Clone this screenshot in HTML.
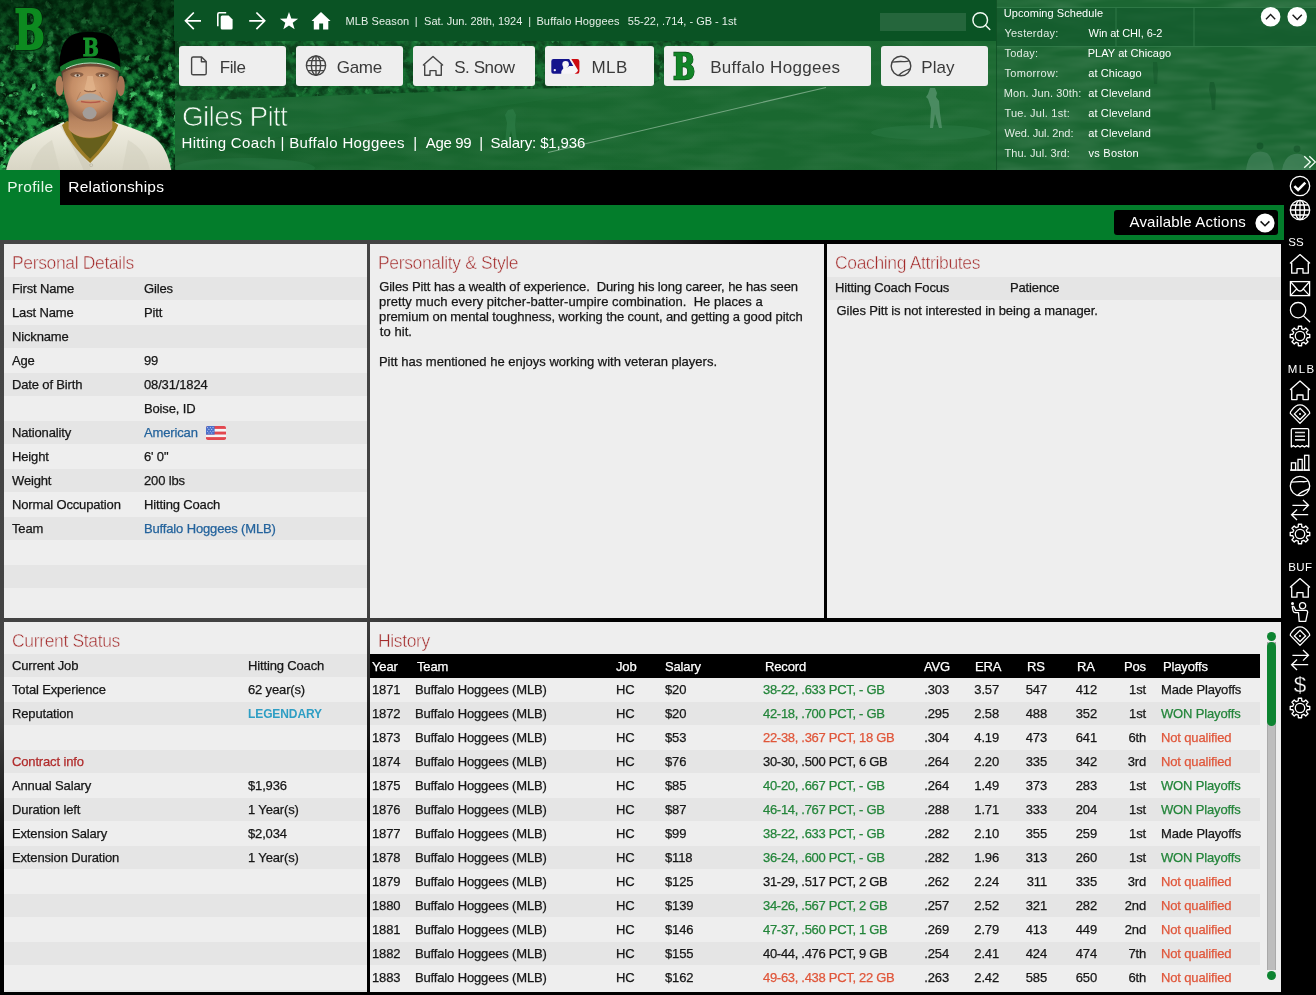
<!DOCTYPE html>
<html lang="en"><head><meta charset="utf-8"><title>Giles Pitt - Coach Profile</title>
<style>

*{box-sizing:border-box;margin:0;padding:0}
html,body{width:1316px;height:995px;overflow:hidden;background:#3a3a3a}
body{font-family:"Liberation Sans",sans-serif;font-size:13px;color:#1c1c1c}
#app{position:relative;width:1316px;height:995px;overflow:hidden;background:#000 radial-gradient(ellipse 800px 660px at 0px 240px,#464646 0%,#424242 72%,#000 96%)}
.abs{position:absolute}
.t{position:absolute;white-space:pre;line-height:24px;height:24px;letter-spacing:-0.15px}
.x{position:absolute;white-space:pre}
.panel .t{line-height:26px}
.panel{color:#161616;-webkit-text-stroke:0.25px}
#hdr{position:absolute;left:0;top:0;width:1316px;height:170px;background:#12642d;overflow:hidden}
#topstrip{position:absolute;left:174px;top:0;width:822px;height:41px;background:#0a5324}
.btn{position:absolute;top:46px;height:40px;background:#eeeeee;border-radius:3px;color:#3a3a3a;font-size:18px}

#tabs{position:absolute;left:0;top:170px;width:1316px;height:35px;background:#000}
#actbar{position:absolute;left:0;top:205px;width:1284px;height:35px;background:#037d2b}
.panel{position:absolute;background:#eeeeee;overflow:hidden}
.ptitle{position:absolute;left:8px;top:7px;font-size:17.5px;color:#a32a2a;line-height:24px;white-space:pre;letter-spacing:-0.35px;-webkit-text-stroke:0.45px #eeeeee}
.stripe{position:absolute;left:0;height:23px;background:#e5e5e5}
.lnk{color:#24639c}
.g{color:#23853a}
.r{color:#e0563a}
#side{position:absolute;left:1284px;top:170px;width:32px;height:825px;background:#000}
.sch{position:absolute;white-space:pre;color:#fff;font-size:11.5px;line-height:20px;height:20px}

</style></head>
<body>
<div id="app">

<svg width="0" height="0" style="position:absolute">
<defs>
<filter id="crowd" x="0" y="0" width="100%" height="100%" color-interpolation-filters="sRGB">
  <feTurbulence type="fractalNoise" baseFrequency="0.11" numOctaves="4" seed="7" result="n"/>
  <feColorMatrix in="n" type="matrix" values="0 0 0 0 0.13  0 0 0 0 0.62  0 0 0 0 0.27  5 0 0 0 -2.5" result="hi"/>
  <feColorMatrix in="n" type="matrix" values="0 0 0 0 0.01  0 0 0 0 0.09  0 0 0 0 0.03  -5 0 0 0 2.6" result="lo"/>
  <feColorMatrix in="n" type="matrix" values="0 0 0 0 0.3  0 0 0 0 0.85  0 0 0 0 0.45  0 7 0 0 -4.45" result="sp"/>
  <feMerge><feMergeNode in="lo"/><feMergeNode in="hi"/><feMergeNode in="sp"/></feMerge>
</filter>
<filter id="fieldn" x="0" y="0" width="100%" height="100%" color-interpolation-filters="sRGB">
  <feTurbulence type="fractalNoise" baseFrequency="0.02 0.09" numOctaves="2" seed="11"/>
  <feColorMatrix type="matrix" values="0 0 0 0 1  0 0 0 0 1  0 0 0 0 1  0.5 0 0 0 -0.17"/>
</filter>
<filter id="soft" x="-10%" y="-10%" width="120%" height="120%"><feGaussianBlur stdDeviation="0.55"/></filter>
<filter id="soft2" x="-20%" y="-20%" width="140%" height="140%"><feGaussianBlur stdDeviation="1.6"/></filter>
<radialGradient id="skin" cx="0.5" cy="0.45" r="0.62">
  <stop offset="0" stop-color="#dcaa80"/><stop offset="0.55" stop-color="#c48d66"/><stop offset="1" stop-color="#76503a"/>
</radialGradient>
<linearGradient id="neck" x1="0" y1="0" x2="0" y2="1">
  <stop offset="0" stop-color="#7e553c"/><stop offset="0.5" stop-color="#b98560"/><stop offset="1" stop-color="#c9956c"/>
</linearGradient>
<linearGradient id="jersey" x1="0" y1="0" x2="0" y2="1">
  <stop offset="0" stop-color="#f1efe3"/><stop offset="1" stop-color="#d8d5c4"/>
</linearGradient>
<linearGradient id="crowdshade" x1="0" y1="0" x2="0" y2="1">
  <stop offset="0" stop-color="#00210a" stop-opacity="0.8"/><stop offset="0.3" stop-color="#00210a" stop-opacity="0.45"/><stop offset="0.6" stop-color="#00210a" stop-opacity="0.1"/><stop offset="1" stop-color="#00210a" stop-opacity="0"/>
</linearGradient>
</defs></svg>
<div id="hdr"><svg class="abs" style="left:174px;top:0" width="822" height="170" viewBox="174 0 822 170"><defs><clipPath id="crowdclip"><path d="M174,41 H720 L650,86 L520,89 L174,101 Z"/></clipPath><linearGradient id="fg" x1="0" y1="0" x2="1" y2="0"><stop offset="0" stop-color="#15602b"/><stop offset="0.45" stop-color="#19672f"/><stop offset="1" stop-color="#1b6931"/></linearGradient><linearGradient id="fg2" x1="0" y1="0" x2="0" y2="1"><stop offset="0" stop-color="#06391a" stop-opacity="0.55"/><stop offset="0.5" stop-color="#06391a" stop-opacity="0.12"/><stop offset="1" stop-color="#06391a" stop-opacity="0"/></linearGradient></defs><rect x="174" y="0" width="822" height="170" fill="url(#fg)"/><rect x="174" y="0" width="822" height="170" filter="url(#fieldn)" opacity="0.22"/><path d="M174,41 H720 L650,86 L520,89 L174,101 Z" fill="#0d4f23" opacity="0.55"/><g clip-path="url(#crowdclip)" opacity="0.35"><rect x="174" y="41" width="560" height="64" filter="url(#crowd)"/></g><path d="M174,101 L520,89 L650,86 L600,92 L174,152 Z" fill="#2a7a44" opacity="0.22"/><path d="M548,152.5 L826,87.5" stroke="#b5d4bc" stroke-width="1.2" opacity="0.55"/><ellipse cx="931" cy="132.5" rx="60" ry="7.5" fill="#2b7a45" opacity="0.5"/><ellipse cx="245" cy="168" rx="70" ry="10" fill="#2b7a45" opacity="0.4"/><path d="M930,88 l5,0 l2,5 l-1,4 l3,4 l1,12 l2,15 l-3,0 l-4,-14 l-2,14 l-3,0 l1,-20 l-3,-9 l-2,-2 l2,-3 z" fill="#5a9570" opacity="0.75"/><path d="M508,110 l5,-1 l3,6 l-1,10 l2,18 l-3,0 l-3,-12 l-3,12 l-3,0 l2,-20 l-2,-8 z" fill="#2f7e49" opacity="0.6"/></svg><svg class="abs" style="left:996px;top:0" width="320" height="170" viewBox="996 0 320 170"><rect x="996" y="0" width="320" height="170" fill="#1b6632"/><rect x="996" y="0" width="320" height="170" filter="url(#fieldn)" opacity="0.4"/><rect x="996" y="7" width="320" height="40" fill="#125a2c" opacity="0.7"/><path d="M996,7.5 H1316 M996,46.5 H1316 M1116,8 V46 M1194,8 V46" stroke="#3f8a57" stroke-width="1" opacity="0.6" fill="none"/><rect x="995.5" y="0" width="1.3" height="170" fill="#0e4f24"/><path d="M1246,170 q2,-14 8,-17 q6,-3 13,0 q5,4 7,17 z" fill="#4a8560" opacity="0.6"/><circle cx="1260" cy="146" r="3.4" fill="#0d4a22" opacity="0.55"/><path d="M1282,170 q2,-12 9,-15 q8,-3 14,1 q5,4 6,14 z" fill="#4f8b66" opacity="0.6"/><circle cx="1297" cy="149" r="3.4" fill="#0d4a22" opacity="0.45"/><path d="M1210,82 l4,0 l2,8 l-1,20 l-3,0 l-1,-12 l-2,-8 z" fill="#0f4f25" opacity="0.5"/><path d="M1153,62 l4,0 l1,8 l-1,14 l-3,0 l-1,-14 z" fill="#0f4f25" opacity="0.4"/><circle cx="1270.6" cy="16.8" r="9.8" fill="#fff"/><path d="M1266.0,19.2 L1270.6,14.4 L1275.1999999999998,19.2" stroke="#1a1a1a" stroke-width="1.4" fill="none"/><circle cx="1297.2" cy="16.8" r="9.8" fill="#fff"/><path d="M1292.6000000000001,14.8 L1297.2,19.6 L1301.8,14.8" stroke="#1a1a1a" stroke-width="1.4" fill="none"/><path d="M1304.2,156.3 L1310.3,162 L1304.2,167.7 M1309.3,156.3 L1315.4,162 L1309.3,167.7" stroke="#f2fff4" stroke-width="1.35" fill="none"/></svg><svg class="abs" style="left:0;top:0" width="175" height="170" viewBox="0 0 175 170"><rect width="175" height="170" fill="#0d5a27"/><rect width="175" height="170" filter="url(#crowd)"/><rect width="175" height="170" fill="url(#crowdshade)"/></svg><div id="topstrip"></div><div class="abs" style="left:880px;top:13px;width:86px;height:18px;background:rgba(255,255,255,0.115)"></div><svg class="abs" style="left:968px;top:8px" width="26" height="26" viewBox="968 8 26 26" fill="none" stroke="#f2fbf3" stroke-width="1.45"><circle cx="980.2" cy="20" r="7.3"/><path d="M985.5,25.3 L989.8,29.5" stroke-linecap="round"/></svg><svg class="abs" style="left:0;top:0" width="180" height="170" viewBox="0 0 180 170"><g transform="translate(14.60,48.95) scale(0.731,1)"><text x="0" y="0" font-family="'DejaVu Serif Condensed','DejaVu Serif','Liberation Serif',serif" font-weight="bold" font-size="54.52" fill="#04260c" stroke="#04260c" stroke-width="3.70" stroke-linejoin="miter">B</text><text x="0" y="0" font-family="'DejaVu Serif Condensed','DejaVu Serif','Liberation Serif',serif" font-weight="bold" font-size="54.52" fill="#0d8a20" stroke="#0d8a20" stroke-width="1.90" stroke-linejoin="miter">B</text></g><g filter="url(#soft)"><path d="M6,171 C9,156 14,149 24,142 C36,135 50,129 63.5,122 L90,142 L114.5,121.8 C128,127 142,131 153,137 C163,143 168,154 171.5,171 Z" fill="url(#jersey)"/><path d="M30,171 C34,156 40,147 52,140 L60,171 Z" fill="#cfccba" opacity="0.45"/><path d="M150,171 C147,156 141,147 128,140 L122,171 Z" fill="#cfccba" opacity="0.45"/><path d="M64,124 C70,140 80,154 90.3,164.5 L90.3,171 L84,171 C78,156 70,142 60,126 Z" fill="#c9c6b3" opacity="0.5"/><path d="M62,125 C66,138 78,152 90.2,163 C101,152 113,139 118.2,125 L113,121 L90,130 L67,121 Z" fill="#9c7c26"/><path d="M70.5,131 C75,142 82,151 90.2,158.8 C98,151 106,141 111.2,130.4 C100,140.5 80,141 70.5,131 Z" fill="#665f1d"/><path d="M68.4,104 L112.6,104 L112.3,128 C105,140.5 76,141 68.6,129 Z" fill="url(#neck)"/><ellipse cx="59.6" cy="86" rx="4" ry="10.2" fill="#b07d5a"/><ellipse cx="120.8" cy="86" rx="4" ry="10.2" fill="#a67354"/><path d="M61,68 L66.5,68 L65,86 L62,80 Z" fill="#4a3b30"/><path d="M119.4,68 L114,68 L115.3,86 L118.6,80 Z" fill="#4a3b30"/><path d="M62.6,62 C62,82 63.5,97 68.4,107.5 C72,115 80,121.6 90,121.6 C100,121.6 108,115 112.4,107.5 C116.8,97 118.4,82 117.8,62 Z" fill="url(#skin)"/><path d="M62.6,62 L117.8,62 L117.8,72.5 C104,64.5 76,64.5 62.6,73 Z" fill="#55382a" opacity="0.7"/><ellipse cx="76.8" cy="74.6" rx="6.6" ry="2.6" fill="#6b4733" opacity="0.65"/><ellipse cx="102.2" cy="74.6" rx="6.6" ry="2.6" fill="#6b4733" opacity="0.65"/><ellipse cx="77.3" cy="75.4" rx="3" ry="1.25" fill="#d7cbbd"/><ellipse cx="101.8" cy="75.4" rx="3" ry="1.25" fill="#d7cbbd"/><circle cx="77.6" cy="75.3" r="1.15" fill="#3b2a20"/><circle cx="101.5" cy="75.3" r="1.15" fill="#3b2a20"/><path d="M87.4,76 C86.6,82 85.2,86 84.4,89.4 C86,91.6 94,91.6 95.8,89.4 C95,86 93.4,82 92.8,76 Z" fill="#e2b48c" opacity="0.75"/><path d="M84.2,90.2 Q87,92.4 90.1,91.4 Q93.2,92.4 96,90.2" stroke="#8a5a3e" stroke-width="1.3" fill="none" opacity="0.85"/><path d="M80.6,92 Q77.4,97 76.6,102" stroke="#9a6a4c" stroke-width="1" fill="none" opacity="0.5"/><path d="M99.6,92 Q102.8,97 103.6,102" stroke="#9a6a4c" stroke-width="1" fill="none" opacity="0.5"/><path d="M75.8,102 C79.5,96.4 85,93.2 90.1,93.2 C95.2,93.2 100.8,96.4 108.6,102.4 C103,100.2 97,99.6 90.1,99.9 C84,99.6 80,100.2 75.8,102 Z" fill="#aca59f"/><path d="M81,101.6 Q90.4,103.4 100.4,101.6" stroke="#b55a4a" stroke-width="1.5" fill="none"/><path d="M82.6,112.6 C84.4,108 87.6,107 89.6,107 C91.6,107 94.8,108 96.6,112.6 C96.6,116.6 93.6,119.2 89.6,119.2 C85.6,119.2 82.6,116.6 82.6,112.6 Z" fill="#a39d99"/><path d="M59.8,70 C58.5,50 64,37 76,33.5 C85,31.6 95,31.6 104,33.5 C116,37 121.2,50 120.2,70 C104,57.5 76,57.5 59.8,70 Z" fill="#050505"/><path d="M60,67 C76,54.8 104,54.8 120.2,67 L119.7,71.6 C104,60.6 76,60.8 60.5,72 Z" fill="#19782f"/><path d="M66,68.6 C80,61.2 100,61.1 115,68.2" stroke="#e9efe6" stroke-width="0.9" fill="none" opacity="0.9"/></g><circle cx="91.2" cy="165.2" r="1.5" fill="#d9d6c6" stroke="#aaa794" stroke-width="0.5"/><g transform="translate(82.65,55.85) scale(0.884,1)"><text x="0" y="0" font-family="'DejaVu Serif Condensed','DejaVu Serif','Liberation Serif',serif" font-weight="bold" font-size="23.97" fill="#15902a" stroke="#15902a" stroke-width="0.90" stroke-linejoin="miter">B</text></g></svg><svg class="abs" style="left:176px;top:4px" width="170" height="36" viewBox="176 4 170 36" fill="none" stroke="#fff" stroke-width="1.7"><path d="M185.6,20.8 H201 M193.8,12.5 L185.5,20.8 L193.8,29.1" stroke-linejoin="miter"/><path d="M226.2,12.8 H219.3 Q217.8,12.8 217.8,14.3 V26.2" stroke-width="1.6"/><path d="M222.2,15.4 H228.6 L232.6,19.4 V28 Q232.6,29.5 231.1,29.5 H222.2 Q220.7,29.5 220.7,28 V16.9 Q220.7,15.4 222.2,15.4 Z" fill="#fff" stroke="none"/><path d="M249.2,20.8 H264.6 M256.4,12.5 L264.7,20.8 L256.4,29.1" stroke-linejoin="miter"/><polygon points="289.00,12.00 291.29,18.44 298.13,18.63 292.71,22.81 294.64,29.37 289.00,25.50 283.36,29.37 285.29,22.81 279.87,18.63 286.71,18.44" fill="#fff" stroke="none"/><path d="M321,12 L330.6,20.9 H328.3 V29.5 H323.1 V23.4 H319.2 V29.5 H313.8 V20.9 H311.5 Z" fill="#fff" stroke="none"/></svg><div class="x" style="left:345.5px;top:9.0px;line-height:24px;height:24px;font-size:11px;letter-spacing:0.082px;color:#e6efe8;">MLB Season</div><div class="x" style="left:414.7px;top:9.0px;line-height:24px;height:24px;font-size:11px;letter-spacing:0px;color:#e6efe8;">|</div><div class="x" style="left:424.1px;top:9.0px;line-height:24px;height:24px;font-size:11px;letter-spacing:-0.013px;color:#e6efe8;">Sat. Jun. 28th, 1924</div><div class="x" style="left:528.3px;top:9.0px;line-height:24px;height:24px;font-size:11px;letter-spacing:0px;color:#e6efe8;">|</div><div class="x" style="left:536.4px;top:9.0px;line-height:24px;height:24px;font-size:11px;letter-spacing:0.147px;color:#e6efe8;">Buffalo Hoggees</div><div class="x" style="left:627.8px;top:9.0px;line-height:24px;height:24px;font-size:11px;letter-spacing:-0.008px;color:#e6efe8;">55-22, .714, - GB - 1st</div><div class="btn" style="left:179px;width:107px"></div><div class="btn" style="left:296px;width:107px"></div><div class="btn" style="left:413px;width:122px"></div><div class="btn" style="left:545px;width:109px"></div><div class="btn" style="left:664px;width:207px"></div><div class="btn" style="left:881px;width:107px"></div><div class="x" style="left:219.65px;top:56.0px;line-height:24px;height:24px;font-size:17px;letter-spacing:-0.396px;color:#3a3a3a;">File</div><div class="x" style="left:336.7px;top:56.0px;line-height:24px;height:24px;font-size:17px;letter-spacing:-0.28px;color:#3a3a3a;">Game</div><div class="x" style="left:454.2px;top:56.0px;line-height:24px;height:24px;font-size:17px;letter-spacing:-0.422px;color:#3a3a3a;">S. Snow</div><div class="x" style="left:591.6px;top:56.0px;line-height:24px;height:24px;font-size:17px;letter-spacing:0.342px;color:#3a3a3a;">MLB</div><div class="x" style="left:710.2px;top:56.0px;line-height:24px;height:24px;font-size:17px;letter-spacing:0.315px;color:#3a3a3a;">Buffalo Hoggees</div><div class="x" style="left:921.3px;top:56.0px;line-height:24px;height:24px;font-size:17px;letter-spacing:0.01px;color:#3a3a3a;">Play</div><svg class="abs" style="left:176px;top:42px" width="820" height="48" viewBox="176 42 820 48" fill="none" stroke="#444" stroke-width="1.4"><path d="M193.2,57 H201.6 L206.2,61.6 V73.2 Q206.2,74.8 204.6,74.8 H193.2 Q191.6,74.8 191.6,73.2 V58.6 Q191.6,57 193.2,57 Z M201.4,57.2 V61.8 H206" stroke-linejoin="round"/><g transform="translate(316,65.6)"><circle r="9.6"/><ellipse rx="4.6" ry="9.6"/><path d="M0,-9.6 V9.6 M-9.6,0 H9.6 M-8.2,-5 H8.2 M-8.2,5 H8.2"/></g><g transform="translate(433,66)"><path d="M-9.6,-0.9 L0,-9.4 L9.6,-0.9" stroke-linejoin="round" stroke-linecap="round"/><path d="M-8.3,-1.6 V9.2 H-3 V4.6 H3 V9.2 H8.3 V-1.6" stroke-linejoin="round"/></g><g stroke="none"><rect x="551.3" y="59.1" width="28.1" height="14.6" rx="2.2" fill="#f6f5f7"/><path d="M553.5,59.1 H569.2 L573.3,65.9 H569.4 L567.6,67.2 L562.8,66.4 L563.4,68.2 L561.4,71 L561.2,73.7 H553.5 Q551.3,73.7 551.3,71.5 V61.3 Q551.3,59.1 553.5,59.1 Z" fill="#14148c"/><circle cx="565.6" cy="64.2" r="3.25" fill="#f6f5f7"/><path d="M571.3,59.1 H577.2 Q579.4,59.1 579.4,61.3 V71.5 Q579.4,73.7 577.2,73.7 H574.6 Q577.7,72.6 578,70.2 Z" fill="#cc0a10"/><circle cx="554.8" cy="70.2" r="1.15" fill="#f6f5f7"/></g><g transform="translate(901,66)"><circle r="9.8"/><path d="M-8.9,-3.9 Q-2,-4.7 2,-4.4 Q6,-4.1 8.3,-5.3"/><path d="M-2.2,9.5 Q1,5.5 9.1,2.9"/></g><g transform="translate(673.34,79.20) scale(0.808,1)"><text x="0" y="0" font-family="'DejaVu Serif Condensed','DejaVu Serif','Liberation Serif',serif" font-weight="bold" font-size="35.34" fill="#0a4a15" stroke="#0a4a15" stroke-width="2.40" stroke-linejoin="miter">B</text><text x="0" y="0" font-family="'DejaVu Serif Condensed','DejaVu Serif','Liberation Serif',serif" font-weight="bold" font-size="35.34" fill="#128427" stroke="#128427" stroke-width="1.20" stroke-linejoin="miter">B</text></g></svg><div class="x" style="left:181.99px;top:99.5px;line-height:34px;height:34px;font-size:28px;letter-spacing:-0.69px;color:#f4faf5;-webkit-text-stroke:0.7px #1a662f;">Giles Pitt</div><div class="x" style="left:181.5px;top:131.0px;line-height:24px;height:24px;font-size:15px;letter-spacing:0.336px;color:#fff;">Hitting Coach | Buffalo Hoggees</div><div class="x" style="left:413.3px;top:131.0px;line-height:24px;height:24px;font-size:15px;letter-spacing:0px;color:#fff;">|</div><div class="x" style="left:425.8px;top:131.0px;line-height:24px;height:24px;font-size:15px;letter-spacing:-0.34px;color:#fff;">Age 99</div><div class="x" style="left:479.3px;top:131.0px;line-height:24px;height:24px;font-size:15px;letter-spacing:0px;color:#fff;">|</div><div class="x" style="left:490.4px;top:131.0px;line-height:24px;height:24px;font-size:15px;letter-spacing:-0.138px;color:#fff;">Salary: $1,936</div><div class="x" style="left:1003.8px;top:3.0px;line-height:20px;height:20px;font-size:11px;letter-spacing:0.048px;color:#fff;">Upcoming Schedule</div><div class="x" style="left:1004.4px;top:23.0px;line-height:20px;height:20px;font-size:11px;letter-spacing:0.265px;color:#e2ece4;">Yesterday:</div><div class="x" style="left:1088.6px;top:23.0px;line-height:20px;height:20px;font-size:11px;letter-spacing:-0.098px;color:#fff;">Win at CHI, 6-2</div><div class="x" style="left:1004.4px;top:43.0px;line-height:20px;height:20px;font-size:11px;letter-spacing:0.269px;color:#e2ece4;">Today:</div><div class="x" style="left:1087.7px;top:43.0px;line-height:20px;height:20px;font-size:11px;letter-spacing:0.054px;color:#fff;">PLAY at Chicago</div><div class="x" style="left:1004.4px;top:63.0px;line-height:20px;height:20px;font-size:11px;letter-spacing:0.327px;color:#e2ece4;">Tomorrow:</div><div class="x" style="left:1088.2px;top:63.0px;line-height:20px;height:20px;font-size:11px;letter-spacing:0.081px;color:#fff;">at Chicago</div><div class="x" style="left:1003.7px;top:83.0px;line-height:20px;height:20px;font-size:11px;letter-spacing:0.131px;color:#e2ece4;">Mon. Jun. 30th:</div><div class="x" style="left:1088.2px;top:83.0px;line-height:20px;height:20px;font-size:11px;letter-spacing:0.143px;color:#fff;">at Cleveland</div><div class="x" style="left:1004.4px;top:103.0px;line-height:20px;height:20px;font-size:11px;letter-spacing:0.215px;color:#e2ece4;">Tue. Jul. 1st:</div><div class="x" style="left:1088.2px;top:103.0px;line-height:20px;height:20px;font-size:11px;letter-spacing:0.143px;color:#fff;">at Cleveland</div><div class="x" style="left:1004.6px;top:123.0px;line-height:20px;height:20px;font-size:11px;letter-spacing:-0.097px;color:#e2ece4;">Wed. Jul. 2nd:</div><div class="x" style="left:1088.2px;top:123.0px;line-height:20px;height:20px;font-size:11px;letter-spacing:0.143px;color:#fff;">at Cleveland</div><div class="x" style="left:1004.4px;top:143.0px;line-height:20px;height:20px;font-size:11px;letter-spacing:0.089px;color:#e2ece4;">Thu. Jul. 3rd:</div><div class="x" style="left:1088.6px;top:143.0px;line-height:20px;height:20px;font-size:11px;letter-spacing:0.227px;color:#fff;">vs Boston</div></div>
<div id="tabs"><div class="abs" style="left:0;top:0;width:60px;height:35px;background:#037d2b"></div><div class="x" style="left:7.2px;top:4.5px;line-height:24px;height:24px;font-size:15.5px;letter-spacing:0.314px;color:#e9f7eb;">Profile</div><div class="x" style="left:68.3px;top:4.5px;line-height:24px;height:24px;font-size:15.5px;letter-spacing:0.216px;color:#fff;">Relationships</div></div><div id="actbar"><div class="abs" style="left:1114px;top:5px;width:164px;height:25px;background:#000;border-radius:3px"></div><div class="x" style="left:1129.5px;top:5.0px;line-height:24px;height:24px;font-size:15px;letter-spacing:0.19px;color:#fff;">Available Actions</div><svg class="abs" style="left:1254px;top:7px" width="22" height="22" viewBox="-11 -11 22 22"><circle r="9.6" fill="#fff"/><path d="M-4.4,-1.6 L0,2.8 L4.4,-1.6" stroke="#111" stroke-width="1.5" fill="none"/></svg></div>
<div class="panel" style="left:4px;top:244px;width:363px;height:374px"><div class="ptitle">Personal Details</div><div class="stripe" style="left:0px;top:33px;width:363px"></div><div class="stripe" style="left:0px;top:81px;width:363px"></div><div class="stripe" style="left:0px;top:129px;width:363px"></div><div class="stripe" style="left:0px;top:177px;width:363px"></div><div class="stripe" style="left:0px;top:225px;width:363px"></div><div class="stripe" style="left:0px;top:273px;width:363px"></div><div class="stripe" style="left:0px;top:321px;width:363px"></div><div class="t" style="left:8px;top:32px">First Name</div><div class="t" style="left:140px;top:32px">Giles</div><div class="t" style="left:8px;top:56px">Last Name</div><div class="t" style="left:140px;top:56px">Pitt</div><div class="t" style="left:8px;top:80px">Nickname</div><div class="t" style="left:8px;top:104px">Age</div><div class="t" style="left:140px;top:104px">99</div><div class="t" style="left:8px;top:128px">Date of Birth</div><div class="t" style="left:140px;top:128px">08/31/1824</div><div class="t" style="left:140px;top:152px">Boise, ID</div><div class="t" style="left:8px;top:176px">Nationality</div><div class="t" style="left:140px;top:176px"><span class="lnk">American</span></div><div class="t" style="left:8px;top:200px">Height</div><div class="t" style="left:140px;top:200px">6' 0"</div><div class="t" style="left:8px;top:224px">Weight</div><div class="t" style="left:140px;top:224px">200 lbs</div><div class="t" style="left:8px;top:248px">Normal Occupation</div><div class="t" style="left:140px;top:248px">Hitting Coach</div><div class="t" style="left:8px;top:272px">Team</div><div class="t" style="left:140px;top:272px"><span class="lnk">Buffalo Hoggees (MLB)</span></div><svg class="abs" style="left:202px;top:182px" width="20" height="14" viewBox="0 0 20 14"><defs><clipPath id="fc"><rect width="20" height="14" rx="1.8"/></clipPath></defs><g clip-path="url(#fc)"><rect width="20" height="14" fill="#f4f4f6"/><rect width="20" height="2.9" fill="#e2474f"/><rect y="5.6" width="20" height="2.9" fill="#e2474f"/><rect y="11.1" width="20" height="2.9" fill="#e2474f"/><rect width="8.6" height="8.6" fill="#4a6fcb"/><g fill="#c9d6f2"><circle cx="1.6" cy="1.6" r="0.55"/><circle cx="4.3" cy="1.6" r="0.55"/><circle cx="7" cy="1.6" r="0.55"/><circle cx="2.9" cy="3.4" r="0.55"/><circle cx="5.7" cy="3.4" r="0.55"/><circle cx="1.6" cy="5.2" r="0.55"/><circle cx="4.3" cy="5.2" r="0.55"/><circle cx="7" cy="5.2" r="0.55"/><circle cx="2.9" cy="7" r="0.55"/><circle cx="5.7" cy="7" r="0.55"/></g></g></svg></div><div class="panel" style="left:370px;top:244px;width:454px;height:374px"><div class="ptitle">Personality &amp; Style</div><div class="t" style="left:9.30px;top:35px;line-height:15px;height:15px;letter-spacing:-0.093px">Giles Pitt has a wealth of experience.  During his long career, he has seen</div><div class="t" style="left:9.10px;top:50px;line-height:15px;height:15px;letter-spacing:0.045px">pretty much every pitcher-batter-umpire combination.  He places a</div><div class="t" style="left:9.10px;top:65px;line-height:15px;height:15px;letter-spacing:-0.091px">premium on mental toughness, working the count, and getting a good pitch</div><div class="t" style="left:9.80px;top:80px;line-height:15px;height:15px;letter-spacing:0.053px">to hit.</div><div class="t" style="left:8.90px;top:110px;line-height:15px;height:15px;letter-spacing:-0.001px">Pitt has mentioned he enjoys working with veteran players.</div></div><div class="panel" style="left:827px;top:244px;width:454px;height:374px"><div class="ptitle">Coaching Attributes</div><div class="stripe" style="left:0px;top:33px;width:454px"></div><div class="t" style="left:8px;top:31px">Hitting Coach Focus</div><div class="t" style="left:183px;top:31px">Patience</div><div class="t" style="left:9.60px;top:54px;letter-spacing:-0.083px">Giles Pitt is not interested in being a manager.</div></div><div class="panel" style="left:4px;top:622px;width:363px;height:370px"><div class="ptitle">Current Status</div><div class="stripe" style="left:0px;top:32px;width:363px"></div><div class="stripe" style="left:0px;top:80px;width:363px"></div><div class="stripe" style="left:0px;top:128px;width:363px"></div><div class="stripe" style="left:0px;top:176px;width:363px"></div><div class="stripe" style="left:0px;top:224px;width:363px"></div><div class="stripe" style="left:0px;top:272px;width:363px"></div><div class="stripe" style="left:0px;top:320px;width:363px"></div><div class="stripe" style="left:0px;top:368px;width:363px"></div><div class="t" style="left:8px;top:31px">Current Job</div><div class="t" style="left:244px;top:31px">Hitting Coach</div><div class="t" style="left:8px;top:55px">Total Experience</div><div class="t" style="left:244px;top:55px">62 year(s)</div><div class="t" style="left:8px;top:79px">Reputation</div><div class="t" style="left:244px;top:79px"><b style="color:#2e9ec4;font-size:12px;letter-spacing:-0.1px;-webkit-text-stroke:0">LEGENDARY</b></div><div class="t" style="left:8px;top:127px"><span style="color:#b02a2a">Contract info</span></div><div class="t" style="left:8px;top:151px">Annual Salary</div><div class="t" style="left:244px;top:151px">$1,936</div><div class="t" style="left:8px;top:175px">Duration left</div><div class="t" style="left:244px;top:175px">1 Year(s)</div><div class="t" style="left:8px;top:199px">Extension Salary</div><div class="t" style="left:244px;top:199px">$2,034</div><div class="t" style="left:8px;top:223px">Extension Duration</div><div class="t" style="left:244px;top:223px">1 Year(s)</div></div><div class="panel" style="left:370px;top:622px;width:911px;height:370px"><div class="ptitle">History</div><div class="abs" style="left:0;top:32px;width:890px;height:24px;background:#000"></div><div class="stripe" style="left:0px;top:80px;width:890px"></div><div class="stripe" style="left:0px;top:128px;width:890px"></div><div class="stripe" style="left:0px;top:176px;width:890px"></div><div class="stripe" style="left:0px;top:224px;width:890px"></div><div class="stripe" style="left:0px;top:272px;width:890px"></div><div class="stripe" style="left:0px;top:320px;width:890px"></div><div class="t" style="left:2px;top:32px;color:#fff">Year</div><div class="t" style="left:47px;top:32px;color:#fff">Team</div><div class="t" style="left:246px;top:32px;color:#fff">Job</div><div class="t" style="left:295px;top:32px;color:#fff">Salary</div><div class="t" style="left:395px;top:32px;color:#fff">Record</div><div class="t" style="left:554px;top:32px;color:#fff">AVG</div><div class="t" style="left:605px;top:32px;color:#fff">ERA</div><div class="t" style="left:657px;top:32px;color:#fff">RS</div><div class="t" style="left:707px;top:32px;color:#fff">RA</div><div class="t" style="left:754px;top:32px;color:#fff">Pos</div><div class="t" style="left:793px;top:32px;color:#fff">Playoffs</div><div class="t" style="left:2px;top:55px">1871</div><div class="t" style="left:45px;top:55px">Buffalo Hoggees (MLB)</div><div class="t" style="left:246px;top:55px">HC</div><div class="t" style="left:295px;top:55px">$20</div><div class="t g" style="letter-spacing:-0.3px;left:393px;top:55px">38-22, .633 PCT, - GB</div><div class="t" style="right:332px;top:55px">.303</div><div class="t" style="right:282px;top:55px">3.57</div><div class="t" style="right:234px;top:55px">547</div><div class="t" style="right:184px;top:55px">412</div><div class="t" style="right:135px;top:55px">1st</div><div class="t" style="left:791px;top:55px">Made Playoffs</div><div class="t" style="left:2px;top:79px">1872</div><div class="t" style="left:45px;top:79px">Buffalo Hoggees (MLB)</div><div class="t" style="left:246px;top:79px">HC</div><div class="t" style="left:295px;top:79px">$20</div><div class="t g" style="letter-spacing:-0.3px;left:393px;top:79px">42-18, .700 PCT, - GB</div><div class="t" style="right:332px;top:79px">.295</div><div class="t" style="right:282px;top:79px">2.58</div><div class="t" style="right:234px;top:79px">488</div><div class="t" style="right:184px;top:79px">352</div><div class="t" style="right:135px;top:79px">1st</div><div class="t g" style="left:791px;top:79px">WON Playoffs</div><div class="t" style="left:2px;top:103px">1873</div><div class="t" style="left:45px;top:103px">Buffalo Hoggees (MLB)</div><div class="t" style="left:246px;top:103px">HC</div><div class="t" style="left:295px;top:103px">$53</div><div class="t r" style="letter-spacing:-0.3px;left:393px;top:103px">22-38, .367 PCT, 18 GB</div><div class="t" style="right:332px;top:103px">.304</div><div class="t" style="right:282px;top:103px">4.19</div><div class="t" style="right:234px;top:103px">473</div><div class="t" style="right:184px;top:103px">641</div><div class="t" style="right:135px;top:103px">6th</div><div class="t r" style="left:791px;top:103px">Not qualified</div><div class="t" style="left:2px;top:127px">1874</div><div class="t" style="left:45px;top:127px">Buffalo Hoggees (MLB)</div><div class="t" style="left:246px;top:127px">HC</div><div class="t" style="left:295px;top:127px">$76</div><div class="t" style="letter-spacing:-0.3px;left:393px;top:127px">30-30, .500 PCT, 6 GB</div><div class="t" style="right:332px;top:127px">.264</div><div class="t" style="right:282px;top:127px">2.20</div><div class="t" style="right:234px;top:127px">335</div><div class="t" style="right:184px;top:127px">342</div><div class="t" style="right:135px;top:127px">3rd</div><div class="t r" style="left:791px;top:127px">Not qualified</div><div class="t" style="left:2px;top:151px">1875</div><div class="t" style="left:45px;top:151px">Buffalo Hoggees (MLB)</div><div class="t" style="left:246px;top:151px">HC</div><div class="t" style="left:295px;top:151px">$85</div><div class="t g" style="letter-spacing:-0.3px;left:393px;top:151px">40-20, .667 PCT, - GB</div><div class="t" style="right:332px;top:151px">.264</div><div class="t" style="right:282px;top:151px">1.49</div><div class="t" style="right:234px;top:151px">373</div><div class="t" style="right:184px;top:151px">283</div><div class="t" style="right:135px;top:151px">1st</div><div class="t g" style="left:791px;top:151px">WON Playoffs</div><div class="t" style="left:2px;top:175px">1876</div><div class="t" style="left:45px;top:175px">Buffalo Hoggees (MLB)</div><div class="t" style="left:246px;top:175px">HC</div><div class="t" style="left:295px;top:175px">$87</div><div class="t g" style="letter-spacing:-0.3px;left:393px;top:175px">46-14, .767 PCT, - GB</div><div class="t" style="right:332px;top:175px">.288</div><div class="t" style="right:282px;top:175px">1.71</div><div class="t" style="right:234px;top:175px">333</div><div class="t" style="right:184px;top:175px">204</div><div class="t" style="right:135px;top:175px">1st</div><div class="t g" style="left:791px;top:175px">WON Playoffs</div><div class="t" style="left:2px;top:199px">1877</div><div class="t" style="left:45px;top:199px">Buffalo Hoggees (MLB)</div><div class="t" style="left:246px;top:199px">HC</div><div class="t" style="left:295px;top:199px">$99</div><div class="t g" style="letter-spacing:-0.3px;left:393px;top:199px">38-22, .633 PCT, - GB</div><div class="t" style="right:332px;top:199px">.282</div><div class="t" style="right:282px;top:199px">2.10</div><div class="t" style="right:234px;top:199px">355</div><div class="t" style="right:184px;top:199px">259</div><div class="t" style="right:135px;top:199px">1st</div><div class="t" style="left:791px;top:199px">Made Playoffs</div><div class="t" style="left:2px;top:223px">1878</div><div class="t" style="left:45px;top:223px">Buffalo Hoggees (MLB)</div><div class="t" style="left:246px;top:223px">HC</div><div class="t" style="left:295px;top:223px">$118</div><div class="t g" style="letter-spacing:-0.3px;left:393px;top:223px">36-24, .600 PCT, - GB</div><div class="t" style="right:332px;top:223px">.282</div><div class="t" style="right:282px;top:223px">1.96</div><div class="t" style="right:234px;top:223px">313</div><div class="t" style="right:184px;top:223px">260</div><div class="t" style="right:135px;top:223px">1st</div><div class="t g" style="left:791px;top:223px">WON Playoffs</div><div class="t" style="left:2px;top:247px">1879</div><div class="t" style="left:45px;top:247px">Buffalo Hoggees (MLB)</div><div class="t" style="left:246px;top:247px">HC</div><div class="t" style="left:295px;top:247px">$125</div><div class="t" style="letter-spacing:-0.3px;left:393px;top:247px">31-29, .517 PCT, 2 GB</div><div class="t" style="right:332px;top:247px">.262</div><div class="t" style="right:282px;top:247px">2.24</div><div class="t" style="right:234px;top:247px">311</div><div class="t" style="right:184px;top:247px">335</div><div class="t" style="right:135px;top:247px">3rd</div><div class="t r" style="left:791px;top:247px">Not qualified</div><div class="t" style="left:2px;top:271px">1880</div><div class="t" style="left:45px;top:271px">Buffalo Hoggees (MLB)</div><div class="t" style="left:246px;top:271px">HC</div><div class="t" style="left:295px;top:271px">$139</div><div class="t g" style="letter-spacing:-0.3px;left:393px;top:271px">34-26, .567 PCT, 2 GB</div><div class="t" style="right:332px;top:271px">.257</div><div class="t" style="right:282px;top:271px">2.52</div><div class="t" style="right:234px;top:271px">321</div><div class="t" style="right:184px;top:271px">282</div><div class="t" style="right:135px;top:271px">2nd</div><div class="t r" style="left:791px;top:271px">Not qualified</div><div class="t" style="left:2px;top:295px">1881</div><div class="t" style="left:45px;top:295px">Buffalo Hoggees (MLB)</div><div class="t" style="left:246px;top:295px">HC</div><div class="t" style="left:295px;top:295px">$146</div><div class="t g" style="letter-spacing:-0.3px;left:393px;top:295px">47-37, .560 PCT, 1 GB</div><div class="t" style="right:332px;top:295px">.269</div><div class="t" style="right:282px;top:295px">2.79</div><div class="t" style="right:234px;top:295px">413</div><div class="t" style="right:184px;top:295px">449</div><div class="t" style="right:135px;top:295px">2nd</div><div class="t r" style="left:791px;top:295px">Not qualified</div><div class="t" style="left:2px;top:319px">1882</div><div class="t" style="left:45px;top:319px">Buffalo Hoggees (MLB)</div><div class="t" style="left:246px;top:319px">HC</div><div class="t" style="left:295px;top:319px">$155</div><div class="t" style="letter-spacing:-0.3px;left:393px;top:319px">40-44, .476 PCT, 9 GB</div><div class="t" style="right:332px;top:319px">.254</div><div class="t" style="right:282px;top:319px">2.41</div><div class="t" style="right:234px;top:319px">424</div><div class="t" style="right:184px;top:319px">474</div><div class="t" style="right:135px;top:319px">7th</div><div class="t r" style="left:791px;top:319px">Not qualified</div><div class="t" style="left:2px;top:343px">1883</div><div class="t" style="left:45px;top:343px">Buffalo Hoggees (MLB)</div><div class="t" style="left:246px;top:343px">HC</div><div class="t" style="left:295px;top:343px">$162</div><div class="t r" style="letter-spacing:-0.3px;left:393px;top:343px">49-63, .438 PCT, 22 GB</div><div class="t" style="right:332px;top:343px">.263</div><div class="t" style="right:282px;top:343px">2.42</div><div class="t" style="right:234px;top:343px">585</div><div class="t" style="right:184px;top:343px">650</div><div class="t" style="right:135px;top:343px">6th</div><div class="t r" style="left:791px;top:343px">Not qualified</div><div class="abs" style="left:897px;top:20px;width:9px;height:328px;background:#bdbdbd;border-left:1px solid #a9a9a9;border-right:1px solid #a9a9a9"></div><div class="abs" style="left:897px;top:20px;width:9px;height:84px;background:#0d8431;border-radius:4.5px"></div><div class="abs" style="left:897px;top:10px;width:9px;height:9px;background:#0d8431;border-radius:50%"></div><div class="abs" style="left:897px;top:349px;width:9px;height:9px;background:#0d8431;border-radius:50%"></div></div>
<div id="side"><svg class="abs" style="left:0;top:0" width="32" height="825" viewBox="0 0 32 825" fill="none" stroke="#fff" stroke-width="1.3"><g transform="translate(16,16)" ><circle r="9.7"/><path d="M-5.6,0.1 L-1.9,3.8 L5.3,-3.4" stroke-width="2.6" stroke-linecap="butt" stroke-linejoin="miter"/></g><g transform="translate(16,40)" ><circle r="9.7"/><ellipse rx="4.6" ry="9.7"/><path d="M0,-9.7 V9.7"/><path d="M-9.7,0 H9.7" stroke-width="1.9" stroke-opacity="0.8"/><path d="M-8.3,-5 H8.3 M-8.3,5 H8.3"/></g><g transform="translate(16,94)" ><path d="M-9.6,-0.9 L0,-9.4 L9.6,-0.9" stroke-linejoin="round" stroke-linecap="round"/><path d="M-8.3,-1.6 V9.2 H-3 V4.6 H3 V9.2 H8.3 V-1.6" stroke-linejoin="round"/></g><g transform="translate(16,118.60000000000002)" ><rect x="-9.6" y="-7" width="19.2" height="14"/><path d="M-9.6,-7 L-2,1.6 Q0,3.2 2,1.6 L9.6,-7" stroke-linejoin="round"/><path d="M-9.6,7 L-3.2,0.3 M9.6,7 L3.2,0.3"/></g><g transform="translate(16,142)" ><circle cx="-1.9" cy="-1.8" r="7.7"/><path d="M3.6,3.9 L9.7,9.7" stroke-linecap="round"/></g><g transform="translate(16,166)" ><path d="M-1.73,-7.20 L-1.63,-9.77 L1.63,-9.77 L1.73,-7.20 L3.87,-6.31 L5.76,-8.05 L8.05,-5.76 L6.31,-3.87 L7.20,-1.73 L9.77,-1.63 L9.77,1.63 L7.20,1.73 L6.31,3.87 L8.05,5.76 L5.76,8.05 L3.87,6.31 L1.73,7.20 L1.63,9.77 L-1.63,9.77 L-1.73,7.20 L-3.87,6.31 L-5.76,8.05 L-8.05,5.76 L-6.31,3.87 L-7.20,1.73 L-9.77,1.63 L-9.77,-1.63 L-7.20,-1.73 L-6.31,-3.87 L-8.05,-5.76 L-5.76,-8.05 L-3.87,-6.31Z" stroke-linejoin="round"/><circle r="4.7"/></g><g transform="translate(16,220.39999999999998)" ><path d="M-9.6,-0.9 L0,-9.4 L9.6,-0.9" stroke-linejoin="round" stroke-linecap="round"/><path d="M-8.3,-1.6 V9.2 H-3 V4.6 H3 V9.2 H8.3 V-1.6" stroke-linejoin="round"/></g><g transform="translate(16,244)" ><path d="M0,9.4 L-9.7,-0.6 Q-9.9,-2 -8.4,-3.6 Q-4.6,-9.2 0,-9.2 Q4.6,-9.2 8.4,-3.6 Q9.9,-2 9.7,-0.6 Z" stroke-linejoin="round"/><path d="M0,-5.7 L5.6,-0.1 L0,5.5 L-5.6,-0.1 Z" stroke-linejoin="miter"/><circle r="1" cy="-0.1" fill="#fff" stroke="none"/></g><g transform="translate(16,268)" ><path d="M-8.7,9 V-8 Q-8.7,-9.3 -7.4,-9.3 H7.4 Q8.7,-9.3 8.7,-8 V9 L6.6,7.6 L4.4,9 L2.2,7.6 L0,9 L-2.2,7.6 L-4.4,9 L-6.6,7.6 Z" stroke-linejoin="round"/><path d="M-5,-5.5 H5 M-5,-1.8 H5 M-5,1.9 H5" stroke-width="1.6" stroke-opacity="0.85"/></g><g transform="translate(16,292)" ><path d="M-10,8.1 H10"/><rect x="-8.6" y="0.8" width="4.2" height="7.3"/><rect x="-2" y="-2.6" width="4.2" height="10.7"/><rect x="4.6" y="-6.7" width="4.2" height="14.8"/></g><g transform="translate(16,316)" ><circle r="9.7"/><path d="M-8.9,-3.8 Q-2,-4.6 2,-4.3 Q6,-4 8.2,-5.2" /><path d="M-2.2,9.4 Q1,5.5 9,2.8"/></g><g transform="translate(16,340)" ><path d="M-7.6,-4.7 H8.4 M3,-10 L8.5,-4.7 L3,0.6" stroke-linejoin="miter"/><path d="M8.2,4.7 H-8.3 M-3,-0.5 L-8.4,4.7 L-3,10" stroke-linejoin="miter"/></g><g transform="translate(16,364)" ><path d="M-1.73,-7.20 L-1.63,-9.77 L1.63,-9.77 L1.73,-7.20 L3.87,-6.31 L5.76,-8.05 L8.05,-5.76 L6.31,-3.87 L7.20,-1.73 L9.77,-1.63 L9.77,1.63 L7.20,1.73 L6.31,3.87 L8.05,5.76 L5.76,8.05 L3.87,6.31 L1.73,7.20 L1.63,9.77 L-1.63,9.77 L-1.73,7.20 L-3.87,6.31 L-5.76,8.05 L-8.05,5.76 L-6.31,3.87 L-7.20,1.73 L-9.77,1.63 L-9.77,-1.63 L-7.20,-1.73 L-6.31,-3.87 L-8.05,-5.76 L-5.76,-8.05 L-3.87,-6.31Z" stroke-linejoin="round"/><circle r="4.7"/></g><g transform="translate(16,418)" ><path d="M-9.6,-0.9 L0,-9.4 L9.6,-0.9" stroke-linejoin="round" stroke-linecap="round"/><path d="M-8.3,-1.6 V9.2 H-3 V4.6 H3 V9.2 H8.3 V-1.6" stroke-linejoin="round"/></g><g transform="translate(16,442)" ><circle cx="2.6" cy="-6.3" r="3.1"/><circle cx="-7.5" cy="-8.4" r="1.5" fill="#fff" stroke="none"/><path d="M-7.8,-5.6 L-7,-1.3 Q-6.6,0.6 -5,0.6 L-1.5,0.6 L-0.8,9.4 L5.7,9.4 L7.7,0.1 Q7.5,-1.6 6,-1.6 L-4.2,-1.6 L-6.4,-5.6 Z" stroke-linejoin="round"/></g><g transform="translate(16,466)" ><path d="M0,9.4 L-9.7,-0.6 Q-9.9,-2 -8.4,-3.6 Q-4.6,-9.2 0,-9.2 Q4.6,-9.2 8.4,-3.6 Q9.9,-2 9.7,-0.6 Z" stroke-linejoin="round"/><path d="M0,-5.7 L5.6,-0.1 L0,5.5 L-5.6,-0.1 Z" stroke-linejoin="miter"/><circle r="1" cy="-0.1" fill="#fff" stroke="none"/></g><g transform="translate(16,490)" ><path d="M-7.6,-4.7 H8.4 M3,-10 L8.5,-4.7 L3,0.6" stroke-linejoin="miter"/><path d="M8.2,4.7 H-8.3 M-3,-0.5 L-8.4,4.7 L-3,10" stroke-linejoin="miter"/></g><g transform="translate(16,514)" ><text x="0" y="7.6" text-anchor="middle" font-family="'Liberation Sans',sans-serif" font-size="22.5" fill="#fff" stroke="#000" stroke-width="0.3">$</text></g><g transform="translate(16,538)" ><path d="M-1.73,-7.20 L-1.63,-9.77 L1.63,-9.77 L1.73,-7.20 L3.87,-6.31 L5.76,-8.05 L8.05,-5.76 L6.31,-3.87 L7.20,-1.73 L9.77,-1.63 L9.77,1.63 L7.20,1.73 L6.31,3.87 L8.05,5.76 L5.76,8.05 L3.87,6.31 L1.73,7.20 L1.63,9.77 L-1.63,9.77 L-1.73,7.20 L-3.87,6.31 L-5.76,8.05 L-8.05,5.76 L-6.31,3.87 L-7.20,1.73 L-9.77,1.63 L-9.77,-1.63 L-7.20,-1.73 L-6.31,-3.87 L-8.05,-5.76 L-5.76,-8.05 L-3.87,-6.31Z" stroke-linejoin="round"/><circle r="4.7"/></g></svg><div class="abs" style="left:4.30px;top:64px;color:#fff;font-size:11.5px;line-height:16px;white-space:pre;letter-spacing:0.13px">SS</div><div class="abs" style="left:3.70px;top:191px;color:#fff;font-size:11.5px;line-height:16px;white-space:pre;letter-spacing:1.412px">MLB</div><div class="abs" style="left:4.30px;top:389px;color:#fff;font-size:11.5px;line-height:16px;white-space:pre;letter-spacing:0.362px">BUF</div></div>
</div>
</body></html>
